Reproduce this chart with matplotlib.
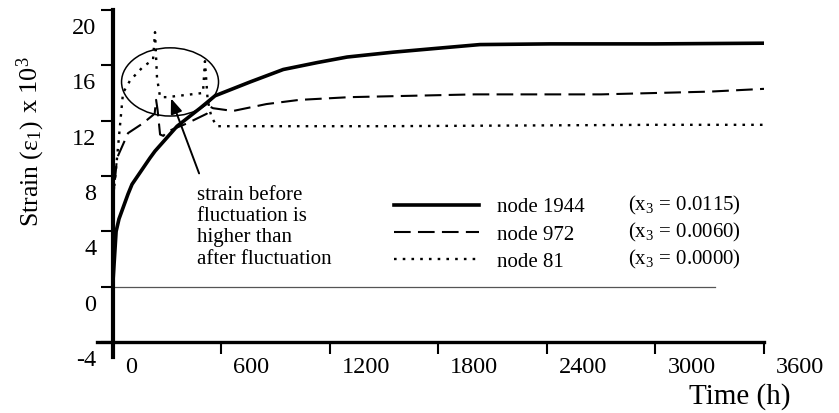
import matplotlib
matplotlib.use("Agg")
import matplotlib.pyplot as plt
from matplotlib.patches import Ellipse
from matplotlib.transforms import ScaledTranslation

plt.rcParams['font.family'] = ['Liberation Serif', 'DejaVu Serif']
plt.rcParams['mathtext.fontset'] = 'custom'
plt.rcParams['mathtext.rm'] = 'Liberation Serif'
plt.rcParams['mathtext.it'] = 'Liberation Serif:italic'

# ---- data ----
t_1944 = [0, 19, 35, 85, 107, 206, 234, 356, 483, 566, 760, 943, 1131, 1296, 1550, 1810, 2030, 2420, 3000, 3600]
e_1944 = [0, 4.0, 4.9, 6.7, 7.4, 9.3, 9.8, 11.6, 12.9, 13.8, 14.8, 15.7, 16.2, 16.6, 16.95, 17.25, 17.5, 17.55, 17.55, 17.6]

t_972 = [0, 24, 85, 166, 232, 240, 248, 262, 280, 300, 410, 520, 540, 555, 665, 850, 1030, 1310, 2000, 2700, 3300, 3600]
e_972 = [6.0, 9.3, 11.1, 11.8, 12.5, 13.5, 12.8, 11.0, 10.9, 11.2, 11.8, 12.5, 13.0, 12.9, 12.7, 13.2, 13.5, 13.7, 13.9, 13.9, 14.1, 14.3]

t_81 = [0, 24, 57, 96, 168, 223, 234, 245, 262, 300, 499, 510, 525, 545, 575, 1500, 3000, 3600]
e_81 = [6.0, 9.3, 14.0, 14.9, 15.9, 16.4, 18.4, 15.1, 13.7, 13.7, 14.0, 16.3, 13.5, 12.3, 11.6, 11.6, 11.7, 11.7]

series_labels = ['node 1944', 'node 972', 'node 81']
series_x3 = ['0.0115', '0.0060', '0.0000']

x_ticks = [0, 600, 1200, 1800, 2400, 3000, 3600]
y_ticks = [-4, 0, 4, 8, 12, 16, 20]

note_text = "strain before\nfluctuation is\nhigher than\nafter fluctuation"

# ---- figure ----
fig = plt.figure(figsize=(8.39, 4.13), dpi=100)
ax = fig.add_axes([0.1343, 0.1719, 0.7763, 0.8039])
ax.set_xlim(0, 3600)
ax.set_ylim(-4, 20)

for s in ['top', 'right']:
    ax.spines[s].set_visible(False)
ax.spines['left'].set_linewidth(3.0)
ax.spines['bottom'].set_linewidth(2.4)
ax.spines['left'].set_bounds(-5.1, 20)
ax.spines['bottom'].set_bounds(-85, 3600)

ax.set_xticks(x_ticks)
ax.set_xticklabels([str(v) for v in x_ticks])
ax.set_yticks(y_ticks)
ax.set_yticklabels([str(v) if v >= 0 else '-' + str(-v) for v in y_ticks])
ax.tick_params(axis='both', direction='out', length=8.6, width=1.5, labelsize=17.5, colors='black')
ax.tick_params(axis='x', pad=2)
ax.tick_params(axis='y', pad=3)

for lab in ax.get_xticklabels():
    lab.set_horizontalalignment('left')
    lab.set_transform(lab.get_transform() + ScaledTranslation(12 / 100, 0, fig.dpi_scale_trans))
for lab in ax.get_yticklabels():
    lab.set_transform(lab.get_transform() + ScaledTranslation(0, -16 / 100, fig.dpi_scale_trans))

# zero line
ax.plot([0, 3330], [0, 0], color='#555555', lw=0.9, zorder=1)

# series
l1, = ax.plot(t_1944, e_1944, color='black', lw=2.6, solid_joinstyle='round', zorder=4)
l2, = ax.plot(t_972, e_972, color='black', lw=1.5, dashes=(8, 3.5), zorder=3)
l3, = ax.plot(t_81, e_81, color='black', lw=1.7, dashes=(1.1, 2.6), dash_capstyle='butt', zorder=3)

# ellipse + arrow annotation
ax.add_patch(Ellipse((317, 14.8), 536, 4.93, fill=False, lw=1.1, color='black', zorder=5))
ax.annotate('', xy=(317, 13.8), xytext=(483, 8.0),
            arrowprops=dict(arrowstyle='-|>,head_length=0.9,head_width=0.35', color='black', lw=1.4))
ax.text(468, 4.3, note_text, fontsize=15, va='center', ha='left', linespacing=1.16)

# legend
leg = ax.legend([l1, l2, l3], series_labels, loc='upper left', bbox_to_anchor=(0.432, 0.434),
                frameon=False, fontsize=15, handlelength=4.1, handletextpad=0.85,
                labelspacing=0.36, borderpad=0, borderaxespad=0)
for i, v in enumerate(series_x3):
    ax.text(0.791, 0.4127 - i * 0.0828, '(x$_3$ = ' + v + ')', transform=ax.transAxes,
            fontsize=15, va='center', ha='left')

# axis labels
fig.text(740 / 839, 1 - 397 / 413, 'Time (h)', fontsize=21, ha='center', va='center')
fig.text(38 / 839, 1 - 227 / 413, 'Strain (\u03b5$_1$)', fontsize=18.5, rotation=90,
         rotation_mode='anchor', ha='left', va='baseline')
fig.text(38 / 839, 1 - 113 / 413, 'x 10$^3$', fontsize=19, rotation=90,
         rotation_mode='anchor', ha='left', va='baseline')

fig.savefig('out.png', dpi=100)
